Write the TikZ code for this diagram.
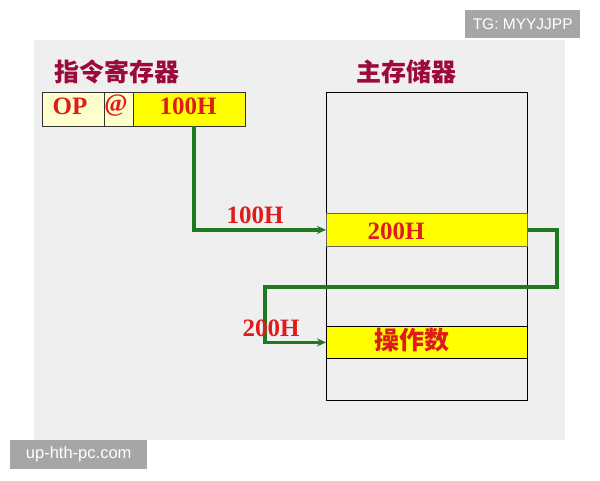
\documentclass[tikz,border=0pt]{standalone}
\usepackage{fontspec}
\setmainfont{Liberation Serif}
\setsansfont{Liberation Sans}
\newfontfamily\cjk{Noto Sans CJK SC}
\usetikzlibrary{arrows.meta}
\definecolor{panel}{HTML}{EFEFEF}
\definecolor{titlered}{HTML}{9C0A3C}
\definecolor{txtred}{HTML}{E01B1B}
\definecolor{arrowgreen}{HTML}{1F7A1F}
\definecolor{lightyel}{HTML}{FFFFCC}
\definecolor{brightyel}{HTML}{FFFF00}
\definecolor{wmgray}{HTML}{A6A6A6}
\begin{document}
\begin{tikzpicture}[x=1pt,y=-1pt,
  cell/.style={draw=black!80, line width=0.8pt, inner sep=0pt, anchor=north west},
  val/.style={text=txtred, font=\bfseries\fontsize{25}{25}\selectfont, inner sep=0pt},
  cjkval/.style={text=txtred, font=\cjk\bfseries\fontsize{25}{25}\selectfont, inner sep=0pt},
  title/.style={text=titlered, font=\cjk\bfseries\fontsize{25}{25}\selectfont, inner sep=0pt},
  conn/.style={draw=arrowgreen, line width=3.2pt, -{Stealth[length=9pt,width=8pt]}},
  wm/.style={fill=wmgray, inner sep=0pt, anchor=north west},
  wmtext/.style={text=white, font=\sffamily\fontsize{15.5}{15.5}\selectfont, inner sep=0pt}
]
\useasboundingbox (0,0) rectangle (600,480);
\fill[white] (0,0) rectangle (600,480);
\fill[panel] (34,40) rectangle (565,440);

% titles
\node[title] (regtitle) at (117,72) {指令寄存器};
\node[title] (memtitle) at (406,72) {主存储器};

% instruction register
\node[cell, fill=lightyel, minimum width=62pt, minimum height=34pt] (op) at (42,92) {};
\node[cell, fill=lightyel, minimum width=29pt, minimum height=34pt] (at) at (104,92) {};
\node[cell, fill=brightyel, minimum width=112pt, minimum height=34pt] (addr) at (133,92) {};
\node[val] (optext) at (70,106) {OP};
\node[val] (attext) at (116,106) {@};
\node[val] (addrtext) at (188,106) {100H};

% main memory
\node[cell, draw=black, fill=panel, minimum width=201pt, minimum height=308pt] (mem) at (326,92) {};
\node[cell, draw=black!60, fill=brightyel, minimum width=201pt, minimum height=33pt] (row200) at (326,213) {};
\node[cell, draw=black, fill=brightyel, minimum width=201pt, minimum height=32pt] (rowop) at (326,326) {};
\node[val] (rowtext) at (396,231) {200H};
\node[cjkval] (optextmem) at (412,340) {操作数};

% connectors
\coordinate (down1) at (194,126);
\draw[conn] (down1) |- (row200.west);
\node[val] (lbl100) at (255,215) {100H};

\coordinate (t1) at (557,287);
\coordinate (t2) at (265,287);
\draw[conn] (row200.east) -| (t1) -- (t2) |- (rowop.west);
\node[val] (lbl200) at (271,328) {200H};

% watermarks
\node[wm, minimum width=115pt, minimum height=28pt] (wm1) at (465,10) {};
\node[wmtext] (wm1t) at (wm1.center) {TG: MYYJJPP};
\node[wm, minimum width=137pt, minimum height=29pt] (wm2) at (10,440) {};
\node[wmtext, font=\sffamily\fontsize{16.5}{16.5}\selectfont] (wm2t) at (wm2.center) {up-hth-pc.com};
\end{tikzpicture}
\end{document}
